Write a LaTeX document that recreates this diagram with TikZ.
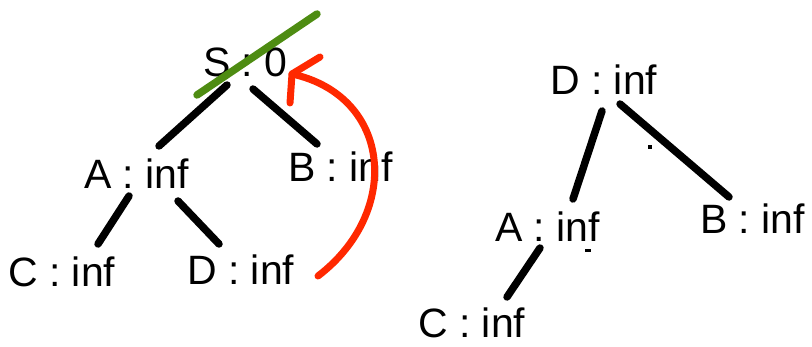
\documentclass[tikz,border=0pt]{standalone}
\usepackage{fontspec}
\setmainfont{Liberation Sans}
\begin{document}
\begin{tikzpicture}[x=1pt,y=-1pt,
  lbl/.style={anchor=base west,inner sep=0pt,font=\fontsize{41}{41}\selectfont},
  edge/.style={line width=7.5pt,line cap=round,black},
  cross/.style={line width=7.5pt,line cap=round,draw={rgb,255:red,78;green,140;blue,18}},
  back/.style={line width=7pt,line cap=round,line join=round,draw={rgb,255:red,255;green,40;blue,0}}]
\useasboundingbox (0,0) rectangle (812,347);

% left tree labels
\node[lbl] (s)  at (203,77)  {S : 0};
\node[lbl] (la) at (84,189)  {A : inf};
\node[lbl] (lb) at (288,182) {B : inf};
\node[lbl] (lc) at (8,287)   {C : inf};
\node[lbl] (ld) at (187,285) {D : inf};

% right tree labels
\node[lbl] (rd) at (550,95)  {D : inf};
\node[lbl] (rb) at (700,234) {B : inf};
\node[lbl] (ra) at (495,242) {A : inf};
\node[lbl] (rc) at (418,338) {C : inf};

% edge end points
\coordinate (sA) at (227,85);  \coordinate (aS) at (159,146);
\coordinate (sB) at (253,89);  \coordinate (bS) at (317,144);
\coordinate (aC) at (129,196); \coordinate (cA) at (98,244);
\coordinate (aD) at (178,201); \coordinate (dA) at (219,244);
\coordinate (rdA) at (602,111); \coordinate (raD) at (573,199);
\coordinate (rdB) at (620,104); \coordinate (rbD) at (729,197);
\coordinate (raC) at (540,248); \coordinate (rcA) at (507,297);

% tree edges
\draw[edge] (sA) -- (aS);
\draw[edge] (sB) -- (bS);
\draw[edge] (aC) -- (cA);
\draw[edge] (aD) -- (dA);
\draw[edge] (rdA) -- (raD);
\draw[edge] (rdB) -- (rbD);
\draw[edge] (raC) -- (rcA);

% small pen marks
\fill (648,145) rectangle (652,149);
\fill (585,249.5) rectangle (591,252.5);

% strike-through on the root
\coordinate (x1) at (197,95);
\coordinate (x2) at (317,14);
\draw[cross] (x1) -- (x2);

% curved arrow from D back to S
\coordinate (r0) at (318,276);
\coordinate (tip) at (292,74);
\draw[back] (r0) .. controls (402,212) and (392,96) .. (tip);
\draw[back] (320,57) -- (tip) -- (290,103);
\end{tikzpicture}
\end{document}
